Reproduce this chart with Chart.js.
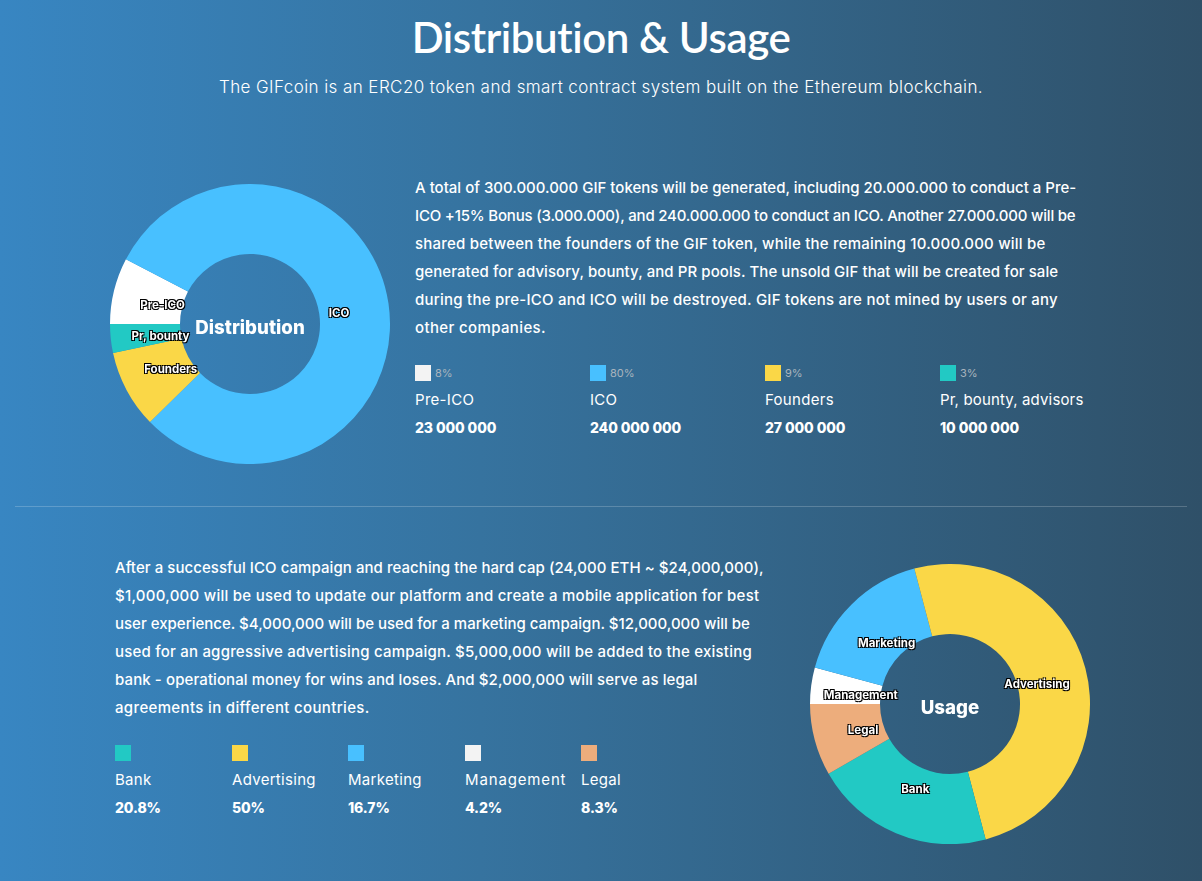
<!DOCTYPE html>
<html>
<head>
<meta charset="utf-8">
<script src="https://cdn.jsdelivr.net/npm/chart.js@4/dist/chart.umd.js"></script>
<style>
html, body { margin: 0; padding: 0; }
body { width: 1202px; height: 881px; overflow: hidden; position: relative; color: #fff;
  background: linear-gradient(90deg, #3886c2 0%, #36739f 40%, #2f5068 100%); font-family: Inter, sans-serif; }
h1 { position: absolute; left: 0; width: 1202px; top: 12px; margin: 0; text-align: center;
  font: 600 42px Lato, sans-serif; letter-spacing: -0.4px; }
.sub { position: absolute; left: 0; width: 1202px; top: 77px; text-align: center; font-size: 17px; font-weight: 300; letter-spacing: 0.42px; }
.para { position: absolute; font-size: 15px; line-height: 28px; font-weight: 500; white-space: nowrap; }
.para span { display: block; }
.rule { position: absolute; left: 15px; width: 1172px; top: 506px; height: 1px; background: rgba(255,255,255,.2); }
canvas { position: absolute; }
.item { position: absolute; white-space: nowrap; }
.swatch { position: absolute; left: 0; top: 0; width: 16px; height: 16px; }
.pct { position: absolute; left: 20px; top: 0; font-size: 11px; line-height: 16px; color: #a9b4bd; }
.name { position: absolute; left: 0; top: 25px; font-size: 15px; line-height: 20px; letter-spacing: 0.3px; }
.val { position: absolute; left: 0; top: 53px; font-size: 14px; line-height: 20px; font-weight: 800; letter-spacing: -0.1px; }
</style>
</head>
<body>
<h1>Distribution &amp; Usage</h1>
<div class="sub">The GIFcoin is an ERC20 token and smart contract system built on the Ethereum blockchain.</div>

<canvas id="chart-distribution" width="280" height="280" style="left:110px;top:184px"></canvas>
<div class="para" style="left:415px;top:174px">
<span>A total of 300.000.000 GIF tokens will be generated, including 20.000.000 to conduct a Pre-</span>
<span style="letter-spacing:-.19px">ICO +15% Bonus (3.000.000), and 240.000.000 to conduct an ICO. Another 27.000.000 will be</span>
<span style="letter-spacing:.22px">shared between the founders of the GIF token, while the remaining 10.000.000 will be</span>
<span style="letter-spacing:.07px">generated for advisory, bounty, and PR pools. The unsold GIF that will be created for sale</span>
<span style="letter-spacing:.235px">during the pre-ICO and ICO will be destroyed. GIF tokens are not mined by users or any</span>
<span style="letter-spacing:.37px">other companies.</span>
</div>
<div id="legend-distribution"></div>

<div class="rule"></div>

<div class="para" style="left:115px;top:554px">
<span style="letter-spacing:.06px">After a successful ICO campaign and reaching the hard cap (24,000 ETH ~ $24,000,000),</span>
<span style="letter-spacing:.26px">$1,000,000 will be used to update our platform and create a mobile application for best</span>
<span>user experience. $4,000,000 will be used for a marketing campaign. $12,000,000 will be</span>
<span style="letter-spacing:.21px">used for an aggressive advertising campaign. $5,000,000 will be added to the existing</span>
<span style="letter-spacing:.1px">bank - operational money for wins and loses. And $2,000,000 will serve as legal</span>
<span style="letter-spacing:.35px">agreements in different countries.</span>
</div>
<div id="legend-usage"></div>
<canvas id="chart-usage" width="280" height="280" style="left:810px;top:564px"></canvas>

<script>
var WHITE = '#ffffff', BLUE = '#48c0ff', YELLOW = '#fad747', TEAL = '#22c9c4', PEACH = '#edad7c';

// values in tokens, clockwise from 9 o'clock
var distribution = {
    labels: ['Pre-ICO', 'ICO', 'Founders', 'Pr, bounty'],
    values: [23000000, 240000000, 27000000, 10000000],
    colors: [WHITE, BLUE, YELLOW, TEAL]
};
var usage = {
    labels: ['Management', 'Marketing', 'Advertising', 'Bank', 'Legal'],
    values: [4.2, 16.7, 50, 20.8, 8.3],
    colors: [WHITE, BLUE, YELLOW, TEAL, PEACH]
};

var distributionLegend = [
    { color: '#f3f3f3', pct: '8%', name: 'Pre-ICO', val: '23 000 000', x: 415 },
    { color: BLUE, pct: '80%', name: 'ICO', val: '240 000 000', x: 590 },
    { color: YELLOW, pct: '9%', name: 'Founders', val: '27 000 000', x: 765 },
    { color: TEAL, pct: '3%', name: 'Pr, bounty, advisors', val: '10 000 000', x: 940, ls: 0.15 }
];
var usageLegend = [
    { color: TEAL, name: 'Bank', val: '20.8%', x: 115 },
    { color: YELLOW, name: 'Advertising', val: '50%', x: 232 },
    { color: BLUE, name: 'Marketing', val: '16.7%', x: 348 },
    { color: '#f3f3f3', name: 'Management', val: '4.2%', x: 465, ls: 0.85 },
    { color: PEACH, name: 'Legal', val: '8.3%', x: 581 }
];

function buildLegend(id, items, top) {
    var html = '';
    items.forEach(function (it) {
        html += '<div class="item" style="left:' + it.x + 'px;top:' + top + 'px">' +
            '<div class="swatch" style="background:' + it.color + '"></div>' +
            (it.pct ? '<div class="pct">' + it.pct + '</div>' : '') +
            '<div class="name"' + (it.ls ? ' style="letter-spacing:' + it.ls + 'px"' : '') + '>' + it.name + '</div>' +
            '<div class="val">' + it.val + '</div></div>';
    });
    document.getElementById(id).innerHTML = html;
}
buildLegend('legend-distribution', distributionLegend, 365);
buildLegend('legend-usage', usageLegend, 745);

// slice labels and the word in the hole
var doughnutText = {
    id: 'doughnutText',
    afterDatasetsDraw: function (chart, args, opts) {
        var ctx = chart.ctx;
        var arcs = chart.getDatasetMeta(0).data;
        ctx.save();
        ctx.textAlign = 'center';
        ctx.textBaseline = 'middle';
        ctx.font = '700 11.5px Inter, sans-serif';
        arcs.forEach(function (arc, i) {
            var p = arc.getProps(['x', 'y', 'startAngle', 'endAngle']);
            var mid = (p.startAngle + p.endAngle) / 2;
            var x = p.x + Math.cos(mid) * 90;
            var y = p.y + Math.sin(mid) * 90 + 3;
            var t = chart.data.labels[i];
            ctx.fillStyle = '#000';
            ctx.fillText(t, x + 1, y + 1);
            ctx.fillText(t, x - 1, y + 1);
            ctx.fillText(t, x + 1, y - 1);
            ctx.fillText(t, x - 1, y - 1);
            ctx.fillStyle = '#fff';
            ctx.fillText(t, x, y);
        });
        ctx.font = '800 18.7px Inter, sans-serif';
        ctx.fillStyle = '#fff';
        ctx.fillText(opts.title, arcs[0].x, arcs[0].y + 4);
        ctx.restore();
    }
};

function makeDoughnut(id, d, title) {
    return new Chart(document.getElementById(id).getContext('2d'), {
        type: 'doughnut',
        data: {
            labels: d.labels,
            datasets: [{ data: d.values, backgroundColor: d.colors, borderWidth: 0 }]
        },
        options: {
            responsive: false,
            maintainAspectRatio: false,
            animation: false,
            cutout: '50%',
            rotation: -90,
            plugins: {
                legend: { display: false },
                tooltip: { enabled: false },
                doughnutText: { title: title }
            }
        },
        plugins: [doughnutText]
    });
}
makeDoughnut('chart-distribution', distribution, 'Distribution');
makeDoughnut('chart-usage', usage, 'Usage');
</script>
</body>
</html>
